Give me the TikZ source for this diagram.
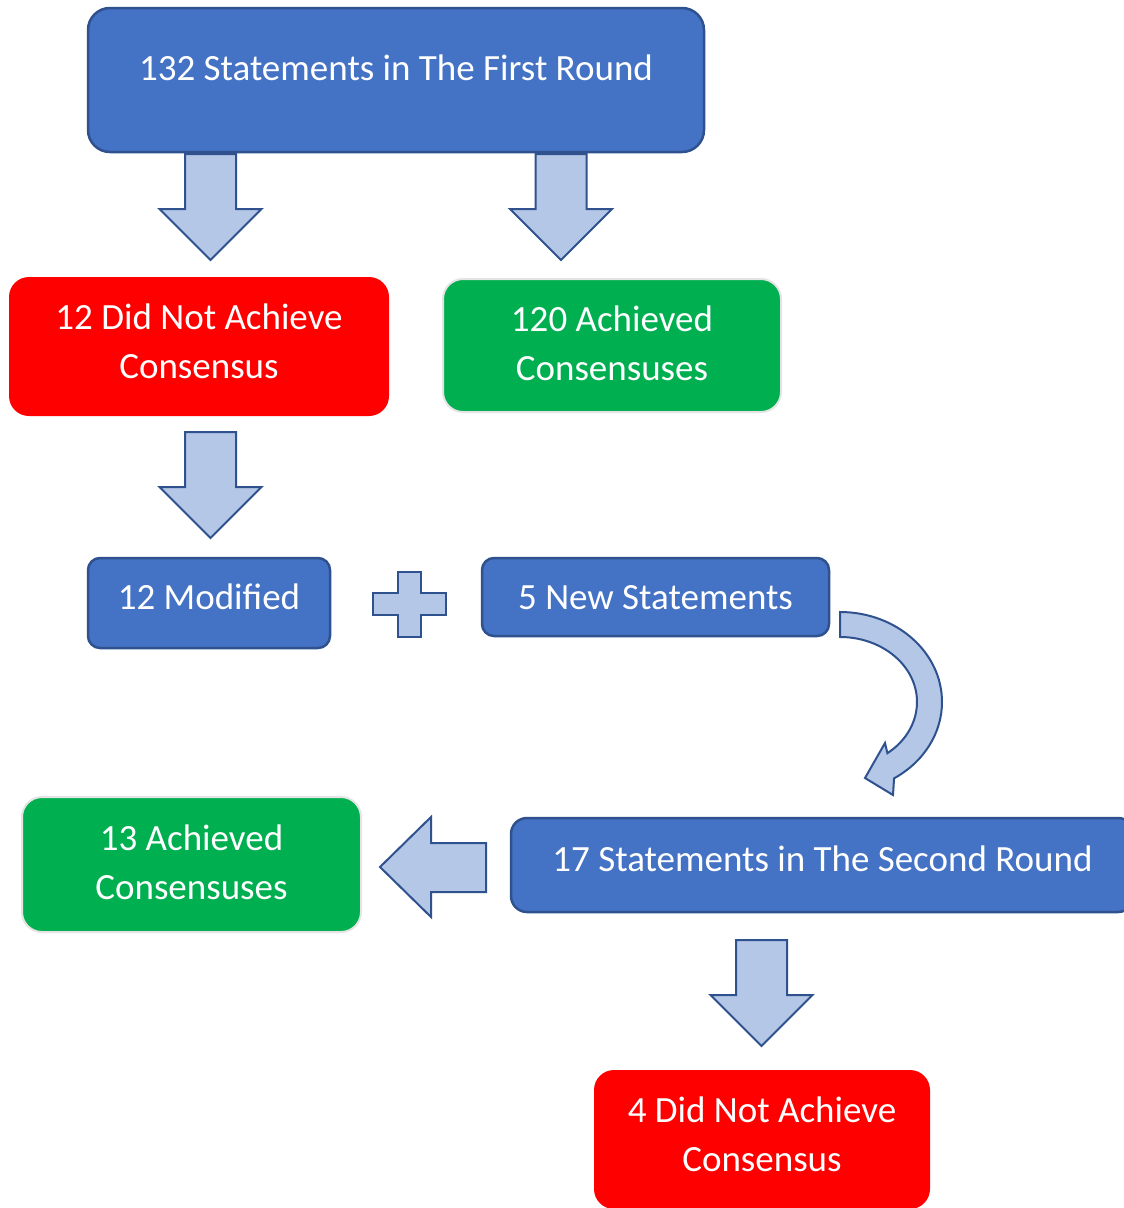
\documentclass[tikz,border=0pt]{standalone}
\usepackage{fontspec}
\setmainfont{Carlito}
\definecolor{boxblue}{HTML}{4472C4}
\definecolor{edgeblue}{HTML}{2F528F}
\definecolor{arrowblue}{HTML}{B4C7E7}
\definecolor{boxred}{HTML}{FF0000}
\definecolor{boxgreen}{HTML}{00B050}
\definecolor{greenedge}{HTML}{E4E4E4}
\newcommand{\lowstrut}[1]{\rule[-#1pt]{0pt}{#1pt}}
\begin{document}
\begin{tikzpicture}[x=1pt,y=1pt,
  basebox/.style={text=white, font=\fontsize{37}{49}\selectfont, align=center, inner sep=0pt},
  bluebox/.style={basebox, fill=boxblue, draw=edgeblue, line width=2.5pt, rounded corners=#1},
  redbox/.style={basebox, fill=boxred, rounded corners=20},
  greenbox/.style={basebox, fill=boxgreen, draw=greenedge, line width=2pt, rounded corners=20},
  blockarrow/.style={fill=arrowblue, draw=edgeblue, line width=2pt, line join=miter},
  pics/downarr/.style={code={
    \draw[blockarrow] (-25.5,0) -- (25.5,0) -- (25.5,-55) -- (51,-55) -- (0,-106)
      -- (-51,-55) -- (-25.5,-55) -- cycle;}}
]
\useasboundingbox (0,0) rectangle (1124,-1208);
\fill[white] (0,0) rectangle (1124,-1208);

% boxes
\node[bluebox=22, minimum width=616, minimum height=144, text height=25, text depth=24]
  (first) at (396,-80) {132 Statements in The First Round};
\node[redbox, minimum width=380, minimum height=139]
  (notach1) at (199,-346.5) {12 Did Not Achieve\\Consensus\lowstrut{10}};
\node[greenbox, minimum width=338, minimum height=133]
  (ach1) at (612,-345.5) {120 Achieved\\Consensuses\lowstrut{4}};
\node[bluebox=12, minimum width=242, minimum height=90, text height=25, text depth=13]
  (mod) at (209,-603) {12 Modified};
\node[bluebox=12, minimum width=347, minimum height=78, text height=25, text depth=0]
  (new) at (655.5,-597) {5 New Statements};
\node[greenbox, minimum width=339, minimum height=135]
  (ach2) at (191.5,-864.5) {13 Achieved\\Consensuses\lowstrut{4}};
\node[bluebox=16, minimum width=623, minimum height=94, text height=25, text depth=12]
  (second) at (822.5,-865) {17 Statements in The Second Round};
\node[redbox, minimum width=336, minimum height=139]
  (notach2) at (762,-1139.5) {4 Did Not Achieve\\Consensus\lowstrut{10}};

% down block arrows
\pic at (210.5,-154) {downarr};
\pic at (561,-154) {downarr};
\pic at (210.5,-432) {downarr};
\pic at (761.5,-940) {downarr};

% left block arrow
\draw[blockarrow] (486,-843) -- (486,-892) -- (431,-892) -- (431,-917) -- (380,-867)
  -- (431,-817) -- (431,-843) -- cycle;

% plus sign
\draw[blockarrow] (398,-572) -- (421,-572) -- (421,-593) -- (446,-593) -- (446,-615)
  -- (421,-615) -- (421,-637) -- (398,-637) -- (398,-615) -- (373,-615) -- (373,-593)
  -- (398,-593) -- cycle;

% curved arrow
\draw[blockarrow] (840,-612) arc[start angle=90, end angle=-58, x radius=102, y radius=90]
  -- (893,-795) -- (865,-778) -- (885,-743) -- (887.4,-753.2)
  arc[start angle=-52, end angle=90, x radius=77, y radius=65] -- cycle;
\end{tikzpicture}
\end{document}
